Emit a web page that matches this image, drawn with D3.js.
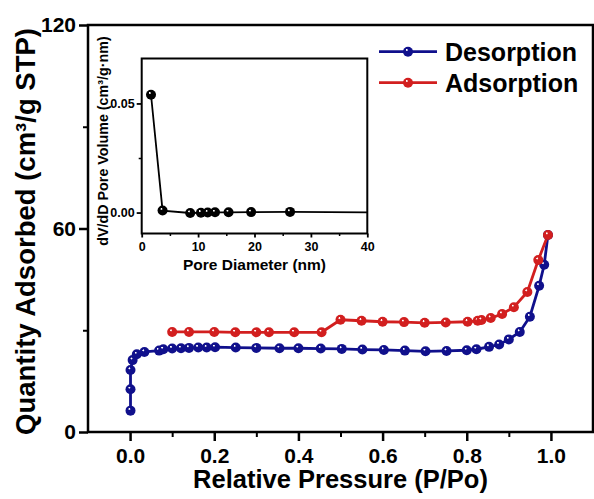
<!DOCTYPE html>
<html><head><meta charset="utf-8">
<script src="https://cdn.jsdelivr.net/npm/d3@7"></script>
<style>
html,body{margin:0;padding:0;background:#fff;}
svg{display:block;font-family:"Liberation Sans",Arial,sans-serif;font-weight:bold;}
</style></head>
<body>
<svg id="chart" width="594" height="499"></svg>
<script>
// ---- data ----
const desP = [0.001,0.001,0.001,0.006,0.016,0.034,0.069,0.079,0.100,0.121,0.140,0.162,0.182,0.202,0.251,0.300,0.355,0.400,0.453,0.503,0.552,0.603,0.653,0.702,0.752,0.800,0.823,0.853,0.877,0.900,0.926,0.950,0.972,0.984,0.993];
const desQ = [6.3,12.6,18.3,21.2,22.9,23.6,24.0,24.4,24.6,24.7,24.8,24.9,24.9,25.0,24.9,24.8,24.7,24.7,24.6,24.5,24.3,24.2,24.0,23.8,23.9,24.1,24.4,25.1,25.8,27.3,29.5,34.0,43.1,49.3,58.1];
const adsP = [0.100,0.140,0.200,0.250,0.300,0.330,0.390,0.455,0.500,0.550,0.600,0.651,0.700,0.750,0.802,0.826,0.835,0.857,0.884,0.912,0.944,0.970,0.993];
const adsQ = [29.5,29.5,29.5,29.4,29.4,29.4,29.4,29.4,33.1,32.8,32.5,32.4,32.2,32.3,32.5,32.8,33.0,33.6,34.8,36.8,41.3,50.7,58.1];
const poreD = [1.65,3.7,8.6,10.5,11.7,13.0,15.4,19.4,26.3,42];
const poreV = [0.054,0.0009,-0.0002,-0.0001,0.0,0.0001,0.0001,0.0002,0.0003,0.0001];
const xTicks = [0.0,0.2,0.4,0.6,0.8,1.0];
const xMinor = [0.1,0.3,0.5,0.7,0.9];
const yTicks = [0,60,120];
const yMinor = [30,90];
const insetXTicks = [0,10,20,30,40];
const insetXMinor = [5,15,25,35];
const insetYTicks = [0.00,0.05];
const insetYMinor = [0.025];
const seriesNames = ["Desorption","Adsorption"];
const seriesColors = ["#10108c","#d21f1f"];

const svg = d3.select("#chart");
const L=88, R=593, T=25, B=432;
const x = d3.scaleLinear().domain([-0.1,1.1]).range([L,R]);
const y = d3.scaleLinear().domain([0,120]).range([B,T]);

// gradients for shiny markers
const defs = svg.append("defs");
function grad(id,color){
  const g = defs.append("radialGradient").attr("id",id).attr("cx","50%").attr("cy","50%").attr("r","50%").attr("fx","36%").attr("fy","30%");
  g.append("stop").attr("offset","0%").attr("stop-color","#fff");
  g.append("stop").attr("offset","10%").attr("stop-color","#fff");
  g.append("stop").attr("offset","26%").attr("stop-color",color);
  g.append("stop").attr("offset","100%").attr("stop-color",color);
}
grad("gB",seriesColors[0]); grad("gR",seriesColors[1]); grad("gK","#000");

// axes
const xAxis = d3.axisBottom(x).tickValues(xTicks).tickSize(9).tickFormat(d3.format(".1f"));
const gx = svg.append("g").attr("transform",`translate(0,${B})`).call(xAxis);
gx.select(".domain").remove();
gx.selectAll("line").attr("stroke-width",2.5);
gx.selectAll("text").attr("font-size",21).attr("dy",0).attr("y",31).attr("fill","#000");
const gxm = svg.append("g").attr("transform",`translate(0,${B})`).call(d3.axisBottom(x).tickValues(xMinor).tickSize(5).tickFormat(""));
gxm.select(".domain").remove(); gxm.selectAll("line").attr("stroke-width",2);

const gy = svg.append("g").attr("transform",`translate(${L},0)`).call(d3.axisLeft(y).tickValues(yTicks).tickSize(9));
gy.select(".domain").remove();
gy.selectAll("line").attr("stroke-width",2.5);
gy.selectAll("text").attr("font-size",21).attr("x",-12).attr("fill","#000");
const gym = svg.append("g").attr("transform",`translate(${L},0)`).call(d3.axisLeft(y).tickValues(yMinor).tickSize(5).tickFormat(""));
gym.select(".domain").remove(); gym.selectAll("line").attr("stroke-width",2);

svg.append("rect").attr("x",L).attr("y",T).attr("width",R-L).attr("height",B-T)
  .attr("fill","none").attr("stroke","#000").attr("stroke-width",2.5);

// axis titles
svg.append("text").attr("x",(L+R)/2).attr("y",488).attr("text-anchor","middle").attr("font-size",25.5).text("Relative Pressure (P/Po)");
svg.append("text").attr("transform",`translate(35,${(T+B)/2+3}) rotate(-90)`).attr("text-anchor","middle").attr("font-size",27.5)
  .text("Quantity Adsorbed (cm³/g STP)");

// series
const line = d3.line().x(d=>x(d[0])).y(d=>y(d[1]));
const des = desP.map((p,i)=>[p,desQ[i]]);
const ads = adsP.map((p,i)=>[p,adsQ[i]]);
svg.append("path").datum(des).attr("d",line).attr("fill","none").attr("stroke",seriesColors[0]).attr("stroke-width",2.8);
svg.append("path").datum(ads).attr("d",line).attr("fill","none").attr("stroke",seriesColors[1]).attr("stroke-width",2.8);
svg.append("g").selectAll("circle").data(des).join("circle").attr("cx",d=>x(d[0])).attr("cy",d=>y(d[1])).attr("r",5).attr("fill","url(#gB)");
svg.append("g").selectAll("circle").data(ads).join("circle").attr("cx",d=>x(d[0])).attr("cy",d=>y(d[1])).attr("r",5).attr("fill","url(#gR)");

// legend
const lg = svg.append("g");
seriesNames.forEach((n,i)=>{
  const ly = 51.7 + i*31;
  lg.append("line").attr("x1",379).attr("x2",437).attr("y1",ly).attr("y2",ly).attr("stroke",seriesColors[i]).attr("stroke-width",2.8);
  lg.append("circle").attr("cx",408).attr("cy",ly).attr("r",5).attr("fill",i===0?"url(#gB)":"url(#gR)");
  lg.append("text").attr("x",445).attr("y",ly+9).attr("font-size",25).text(n);
});

// inset
const iL=141.7, iR=367.3, iT=58.5, iB=233.5;
const ix = d3.scaleLinear().domain([0,40]).range([iL,iR]);
const iy = d3.scaleLinear().domain([-0.0096,0.0706]).range([iB,iT]);
const ins = svg.append("g");
ins.append("rect").attr("x",iL).attr("y",iT).attr("width",iR-iL).attr("height",iB-iT).attr("fill","#fff").attr("stroke","none");
const igx = ins.append("g").attr("transform",`translate(0,${iB})`).call(d3.axisBottom(ix).tickValues(insetXTicks).tickSize(4));
igx.select(".domain").remove(); igx.selectAll("line").attr("stroke-width",1.8);
igx.selectAll("text").attr("font-size",12.5).attr("dy",0).attr("y",17.5).attr("fill","#000");
const igxm = ins.append("g").attr("transform",`translate(0,${iB})`).call(d3.axisBottom(ix).tickValues(insetXMinor).tickSize(2.5).tickFormat(""));
igxm.select(".domain").remove(); igxm.selectAll("line").attr("stroke-width",1.5);
const igy = ins.append("g").attr("transform",`translate(${iL},0)`).call(d3.axisLeft(iy).tickValues(insetYTicks).tickSize(5).tickFormat(d3.format(".2f")));
igy.select(".domain").remove(); igy.selectAll("line").attr("stroke-width",1.8);
igy.selectAll("text").attr("font-size",12.5).attr("x",-7).attr("fill","#000");
const igym = ins.append("g").attr("transform",`translate(${iL},0)`).call(d3.axisLeft(iy).tickValues(insetYMinor).tickSize(3).tickFormat(""));
igym.select(".domain").remove(); igym.selectAll("line").attr("stroke-width",1.5);

defs.append("clipPath").attr("id","insClip").append("rect").attr("x",iL).attr("y",iT).attr("width",iR-iL).attr("height",iB-iT);
const pore = poreD.map((d,i)=>[d,poreV[i]]);
const iline = d3.line().x(d=>ix(d[0])).y(d=>iy(d[1]));
const ic = ins.append("g").attr("clip-path","url(#insClip)");
ic.append("path").datum(pore).attr("d",iline).attr("fill","none").attr("stroke","#000").attr("stroke-width",1.8);
ic.selectAll("circle").data(pore).join("circle").attr("cx",d=>ix(d[0])).attr("cy",d=>iy(d[1])).attr("r",5).attr("fill","url(#gK)");
ins.append("rect").attr("x",iL).attr("y",iT).attr("width",iR-iL).attr("height",iB-iT).attr("fill","none").attr("stroke","#000").attr("stroke-width",2);

ins.append("text").attr("x",(iL+iR)/2).attr("y",270).attr("text-anchor","middle").attr("font-size",15.5).text("Pore Diameter (nm)");
ins.append("text").attr("transform",`translate(108,141) rotate(-90)`).attr("text-anchor","middle").attr("font-size",14.3)
  .text("dV/dD Pore Volume (cm³/g·nm)");
</script>
</body></html>
